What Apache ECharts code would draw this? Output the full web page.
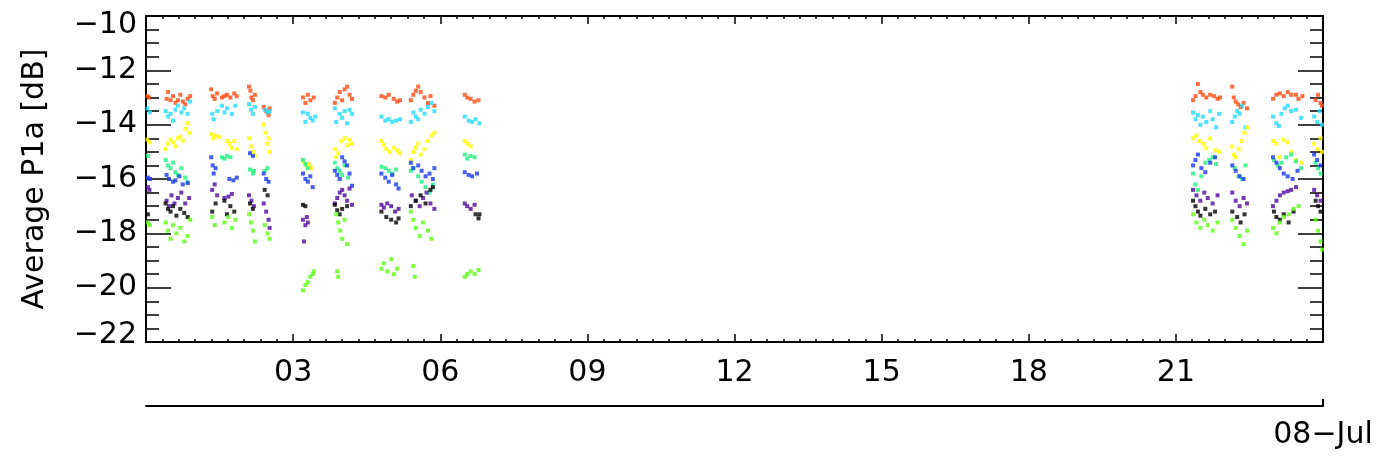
<!DOCTYPE html>
<html>
<head>
<meta charset="utf-8">
<script src="https://cdn.jsdelivr.net/npm/echarts@6/dist/echarts.min.js"></script>
<style>html,body{margin:0;padding:0;background:#fff}#c{width:1382px;height:462px}</style>
</head>
<body>
<div id="c"></div>
<script>
// x = hours of 08-Jul, y = Average P1a [dB]
const xTicks = [3, 6, 9, 12, 15, 18, 21];
const dateLabel = '08\u2212Jul';
const yName = 'Average P1a [dB]';

const redPts = [[0.03,-12.95],[0.06,-13.0],
[0.42,-13.05],[0.45,-12.8],[0.5,-13.1],[0.55,-12.95],[0.6,-13.2],[0.65,-13.1],[0.7,-12.9],[0.75,-13.15],[0.8,-13.25],[0.85,-13.05],[0.9,-12.95],
[1.33,-12.7],[1.36,-12.95],[1.4,-13.05],[1.45,-12.85],[1.55,-13.0],[1.6,-12.95],[1.65,-12.9],[1.72,-13.0],[1.8,-12.85],[1.85,-12.95],
[2.1,-12.6],[2.13,-12.75],[2.15,-13.0],[2.18,-13.1],[2.22,-12.9],
[2.4,-13.35],[2.45,-13.5],[2.5,-13.65],[2.52,-13.4],
[3.2,-13.0],[3.25,-13.2],[3.3,-12.9],[3.35,-13.1],[3.42,-13.0],
[3.85,-13.2],[3.9,-13.0],[3.95,-12.8],[4.0,-13.1],[4.05,-12.7],[4.1,-12.6],[4.15,-12.9],[4.2,-13.05],
[4.8,-12.95],[4.88,-13.0],[4.95,-12.9],[5.05,-13.05],[5.12,-13.15],[5.18,-13.1],
[5.4,-13.1],[5.45,-12.9],[5.5,-12.75],[5.55,-12.6],[5.6,-12.8],[5.68,-13.0],[5.75,-13.2],[5.8,-12.95],[5.88,-13.3],
[6.5,-12.9],[6.55,-13.0],[6.62,-13.05],[6.7,-13.15],[6.78,-13.1],
[21.35,-13.1],[21.4,-12.95],[21.45,-12.5],[21.5,-12.8],[21.55,-12.9],[21.62,-13.0],[21.7,-12.9],[21.78,-12.95],[21.85,-13.05],[21.9,-13.0],
[22.15,-12.6],[22.18,-13.0],[22.22,-13.15],[22.27,-13.25],[22.32,-13.35],[22.38,-13.2],[22.45,-13.4],
[22.98,-13.05],[23.05,-12.9],[23.12,-12.85],[23.2,-12.95],[23.28,-12.8],[23.35,-12.9],[23.45,-12.9],[23.5,-13.05],[23.58,-12.95],
[23.85,-13.1],[23.9,-12.9],[23.95,-13.2],[23.98,-13.3]];

const cyanPts = [[0.03,-13.4],[0.08,-13.55],
[0.4,-13.5],[0.45,-13.7],[0.5,-13.6],[0.55,-13.85],[0.6,-13.45],[0.65,-13.3],[0.72,-13.55],[0.78,-13.4],[0.85,-13.6],[0.9,-13.15],
[1.35,-13.6],[1.38,-13.8],[1.45,-13.5],[1.55,-13.3],[1.6,-13.55],[1.65,-13.4],[1.75,-13.6],[1.82,-13.3],
[2.1,-13.25],[2.14,-13.45],[2.18,-13.6],[2.22,-13.35],
[2.42,-13.45],[2.47,-13.55],[2.52,-13.5],
[3.2,-13.55],[3.25,-13.9],[3.3,-13.6],[3.35,-13.75],[3.4,-13.85],[3.45,-13.7],
[3.85,-13.4],[3.88,-13.9],[3.95,-13.6],[4.0,-13.75],[4.05,-13.5],[4.1,-13.95],[4.15,-13.45],[4.2,-13.6],
[4.8,-13.7],[4.88,-13.85],[4.95,-13.8],[5.02,-13.9],[5.1,-13.85],[5.18,-13.8],
[5.4,-13.9],[5.45,-13.55],[5.5,-13.7],[5.55,-13.8],[5.6,-13.45],[5.68,-13.6],[5.75,-13.35],[5.82,-13.2],[5.88,-13.5],
[6.5,-13.7],[6.58,-13.85],[6.65,-13.9],[6.72,-13.8],[6.8,-13.95],
[21.35,-13.55],[21.4,-13.8],[21.45,-13.65],[21.5,-14.0],[21.55,-13.7],[21.62,-13.9],[21.7,-13.5],[21.75,-13.8],[21.82,-14.1],[21.88,-13.6],
[22.15,-13.9],[22.2,-13.7],[22.25,-13.5],[22.3,-13.6],[22.35,-13.3],[22.42,-14.1],
[22.98,-13.7],[23.05,-13.95],[23.1,-14.05],[23.15,-13.6],[23.22,-13.4],[23.28,-13.3],[23.35,-13.5],[23.45,-13.45],[23.55,-13.75],
[23.82,-13.7],[23.88,-13.9],[23.93,-13.5],[23.98,-14.0]];

const yellowPts = [[0.03,-14.55],[0.07,-14.65],
[0.4,-14.9],[0.45,-14.7],[0.5,-14.55],[0.55,-14.65],[0.6,-14.8],[0.65,-14.5],[0.7,-14.45],[0.75,-14.6],[0.8,-14.15],[0.85,-13.95],[0.88,-14.3],
[1.33,-14.35],[1.38,-14.5],[1.42,-14.4],[1.5,-14.45],[1.65,-14.6],[1.7,-14.7],[1.75,-14.85],[1.8,-14.6],[1.85,-14.9],
[2.1,-14.5],[2.14,-14.8],[2.18,-15.0],[2.22,-15.15],
[2.4,-14.0],[2.44,-14.3],[2.48,-14.7],[2.52,-15.0],[2.5,-14.5],
[3.22,-15.35],[3.27,-15.5],[3.32,-15.45],[3.38,-15.6],
[3.85,-14.9],[3.88,-15.2],[3.92,-15.05],[3.98,-14.6],[4.05,-14.5],[4.1,-14.75],[4.15,-14.55],[4.2,-14.7],
[4.8,-14.6],[4.85,-14.75],[4.9,-14.9],[4.97,-15.0],[5.05,-14.85],[5.12,-14.95],[5.18,-15.05],
[5.4,-15.3],[5.45,-15.0],[5.5,-14.85],[5.55,-14.7],[5.6,-15.1],[5.68,-14.9],[5.75,-14.6],[5.82,-14.4],[5.88,-14.3],
[6.5,-14.6],[6.55,-14.7],[6.62,-14.8],
[21.35,-14.5],[21.42,-14.4],[21.48,-14.6],[21.55,-14.7],[21.62,-14.85],[21.7,-14.5],[21.8,-14.95],[21.88,-15.0],
[22.15,-14.8],[22.18,-15.1],[22.22,-15.2],[22.28,-14.9],[22.35,-14.6],[22.4,-14.3],[22.45,-14.1],
[22.98,-14.6],[23.05,-14.7],[23.12,-15.2],[23.2,-14.55],[23.28,-14.65],[23.35,-15.0],[23.45,-15.3],[23.55,-15.4],
[23.82,-14.7],[23.88,-14.9],[23.95,-14.5],[23.98,-15.0]];

const greenPts = [[0.04,-15.15],
[0.4,-15.3],[0.45,-15.5],[0.5,-15.6],[0.55,-15.4],[0.6,-15.75],[0.65,-15.85],[0.72,-15.6],[0.8,-15.95],[0.85,-16.1],
[1.55,-15.2],[1.6,-15.25],[1.65,-15.15],[1.72,-15.2],
[2.12,-15.65],[2.18,-15.8],[2.2,-15.7],
[2.42,-15.7],[2.48,-15.6],
[3.2,-15.3],[3.25,-15.45],[3.3,-15.6],
[3.85,-15.4],[3.9,-15.6],[3.95,-15.7],[4.0,-15.85],[4.05,-15.5],[4.12,-15.95],
[4.8,-15.55],[4.88,-15.6],[4.95,-15.7],[5.02,-15.8],[5.1,-15.65],
[5.4,-15.7],[5.45,-15.6],[5.55,-15.9],[5.62,-16.1],[5.7,-16.3],[5.78,-16.5],[5.85,-16.2],
[6.5,-15.1],[6.55,-15.25],[6.62,-15.15],[6.7,-15.2],
[21.35,-15.8],[21.4,-16.2],[21.45,-16.4],[21.52,-15.9],[21.6,-15.4],[21.68,-15.3],[21.75,-15.2],[21.82,-15.45],
[22.2,-15.6],[22.28,-15.9],[22.35,-16.0],[22.42,-15.5],
[23.0,-15.3],[23.08,-15.5],[23.15,-15.4],[23.25,-15.2],[23.35,-15.1],[23.45,-15.35],[23.55,-15.6],
[23.85,-15.4],[23.9,-15.6],[23.95,-15.8]];

const bluePts = [[0.04,-15.95],[0.08,-16.0],
[0.42,-15.85],[0.47,-16.0],[0.55,-16.1],[0.6,-16.05],[0.68,-15.9],[0.75,-16.2],[0.85,-16.15],
[1.33,-15.2],[1.36,-15.5],[1.38,-15.8],[1.42,-15.6],[1.7,-16.0],[1.78,-16.05],[1.85,-15.95],
[2.12,-15.05],[2.18,-15.15],
[2.4,-15.8],[2.45,-16.0],[2.5,-16.1],
[3.2,-15.8],[3.25,-16.0],[3.3,-16.1],[3.35,-15.9],[3.4,-16.3],
[3.85,-15.7],[3.9,-15.85],[3.95,-16.0],[4.0,-15.2],[4.05,-15.35],[4.1,-15.5],[4.15,-15.8],[4.2,-16.25],
[4.8,-15.8],[4.88,-15.95],[4.95,-16.1],[5.02,-15.85],[5.1,-16.2],[5.15,-16.35],
[5.4,-15.4],[5.45,-15.6],[5.55,-15.5],[5.62,-15.7],[5.7,-15.9],[5.78,-15.8],[5.85,-16.0],[5.88,-15.6],
[6.5,-15.75],[6.58,-15.85],[6.65,-15.9],[6.75,-15.8],
[21.35,-15.5],[21.4,-15.3],[21.45,-15.1],[21.52,-15.6],[21.6,-15.75],[21.7,-15.4],[21.8,-15.2],
[22.15,-15.5],[22.22,-15.7],[22.3,-15.9],[22.38,-16.0],
[22.98,-15.2],[23.05,-15.4],[23.12,-15.6],[23.2,-15.8],[23.28,-15.9],[23.38,-16.0],[23.48,-15.7],
[23.82,-15.1],[23.88,-15.3],[23.95,-15.5]];

const purplePts = [[0.04,-16.3],[0.07,-16.4],
[0.42,-16.8],[0.47,-17.0],[0.52,-16.6],[0.58,-16.9],[0.65,-16.7],[0.72,-16.5],[0.8,-16.9],[0.88,-16.7],
[1.35,-16.4],[1.4,-16.2],[1.45,-16.6],[1.6,-16.7],[1.68,-16.65],[1.75,-16.55],
[2.1,-16.6],[2.15,-16.8],[2.2,-17.0],
[2.4,-16.9],[2.45,-17.2],[2.5,-17.5],[2.52,-17.8],
[3.2,-17.5],[3.25,-17.7],[3.3,-17.6],[3.22,-18.3],[3.28,-17.4],
[3.85,-16.9],[3.9,-16.7],[3.95,-16.5],[4.0,-16.4],[4.05,-16.6],[4.1,-16.8],[4.15,-16.35],[4.2,-16.95],
[4.8,-16.95],[4.85,-17.05],[4.92,-16.9],[5.0,-17.0],[5.08,-17.2],[5.15,-17.1],
[5.42,-16.6],[5.5,-16.8],[5.58,-17.0],[5.65,-16.7],[5.72,-16.5],[5.8,-16.9],[5.88,-17.1],
[6.5,-16.9],[6.55,-17.0],[6.62,-17.1],[6.7,-16.95],
[21.35,-16.4],[21.42,-16.6],[21.5,-16.8],[21.58,-16.5],[21.65,-16.7],[21.75,-16.9],[21.85,-16.6],
[22.15,-16.5],[22.22,-16.8],[22.3,-17.0],[22.38,-16.7],[22.45,-16.9],
[22.98,-17.0],[23.05,-16.8],[23.12,-16.6],[23.2,-16.5],[23.28,-16.45],[23.35,-16.4],[23.45,-16.3],
[23.82,-16.4],[23.88,-16.6],[23.95,-16.8]];

const blackPts = [[0.04,-17.3],
[0.4,-16.9],[0.45,-17.1],[0.5,-17.2],[0.55,-17.0],[0.62,-17.35],[0.7,-17.1],[0.78,-17.25],[0.85,-17.4],
[1.35,-17.2],[1.42,-16.9],[1.6,-16.8],[1.65,-17.3],[1.72,-17.0],[1.8,-17.2],
[2.12,-16.9],[2.18,-17.1],
[2.42,-16.4],[2.48,-16.6],
[3.2,-16.95],[3.25,-17.0],
[3.85,-16.95],[3.9,-17.15],[3.95,-17.3],[4.0,-17.1],[4.1,-17.0],
[4.8,-17.2],[4.9,-17.4],[5.0,-17.5],[5.1,-17.6],[5.15,-17.45],
[5.4,-17.0],[5.5,-16.8],[5.6,-16.6],[5.7,-16.9],[5.8,-16.4],[5.85,-16.3],
[6.72,-17.3],[6.78,-17.45],[6.8,-17.3],
[21.35,-16.8],[21.4,-17.0],[21.45,-17.2],[21.5,-17.35],[21.6,-17.1],[21.7,-17.3],[21.8,-17.2],
[22.15,-17.2],[22.25,-17.4],[22.32,-17.6],[22.4,-17.3],
[23.0,-17.2],[23.05,-17.4],[23.12,-17.5],[23.2,-17.3],[23.3,-17.6],[23.4,-17.2],
[23.85,-16.8],[23.9,-17.0],[23.95,-17.2]];

const limePts = [[0.04,-17.6],[0.08,-17.7],
[0.4,-17.6],[0.45,-17.9],[0.5,-18.2],[0.55,-17.7],[0.62,-18.0],[0.7,-17.8],[0.78,-18.3],[0.85,-18.1],[0.9,-17.5],
[1.35,-17.4],[1.4,-17.7],[1.6,-17.6],[1.68,-17.4],[1.75,-17.8],[1.82,-17.5],
[2.1,-17.3],[2.14,-17.6],[2.18,-17.9],[2.22,-18.3],
[2.42,-17.7],[2.48,-18.0],[2.52,-18.2],
[3.2,-20.1],[3.25,-19.9],[3.3,-19.8],[3.35,-19.6],[3.4,-19.5],[3.42,-19.4],
[3.88,-17.3],[3.92,-17.6],[3.96,-17.9],[4.0,-18.2],[4.05,-17.5],[4.1,-18.4],[3.9,-19.4],[3.92,-19.6],
[4.8,-19.3],[4.85,-19.1],[4.92,-19.4],[5.0,-18.95],[5.05,-19.5],[5.12,-19.3],
[5.4,-17.2],[5.45,-17.5],[5.5,-17.8],[5.58,-18.1],[5.65,-17.6],[5.75,-17.9],[5.82,-18.2],[5.45,-19.2],[5.48,-19.6],
[6.5,-19.6],[6.55,-19.5],[6.62,-19.4],[6.7,-19.5],[6.78,-19.35],
[21.35,-17.3],[21.42,-17.6],[21.5,-17.8],[21.58,-17.5],[21.65,-17.7],[21.75,-17.9],[21.85,-17.6],
[22.15,-17.5],[22.22,-17.8],[22.3,-18.1],[22.38,-18.4],[22.45,-17.9],
[22.98,-17.8],[23.05,-18.0],[23.12,-17.6],[23.2,-17.4],[23.3,-17.3],[23.4,-17.1],[23.5,-17.0],
[23.85,-17.5],[23.9,-17.9],[23.95,-18.3],[23.98,-18.6]];

const seriesDefs = [
  ['red', redPts, '#ff4a10'],
  ['cyan', cyanPts, '#20dcff'],
  ['yellow', yellowPts, '#ffff00'],
  ['green', greenPts, '#20f080'],
  ['blue', bluePts, '#1838f0'],
  ['purple', purplePts, '#500aa0'],
  ['black', blackPts, '#000000'],
  ['lime', limePts, '#5aff10']
];

const FONT = 'DejaVu Sans';
const txt = {fontFamily: FONT, fontSize: 30, color: '#000'};
const line = {show: true, onZero: false, lineStyle: {color: '#000', width: 2}};

const chart = echarts.init(document.getElementById('c'), null, {renderer: 'canvas'});
chart.setOption({
  animation: false,
  backgroundColor: '#fff',
  grid: {left: 146, right: 59, top: 16, bottom: 120, containLabel: false},
  xAxis: [
    {type: 'value', position: 'bottom', min: 0, max: 24, interval: 3,
     axisLine: line,
     axisTick: {show: true, inside: true, length: 8, lineStyle: {color: '#000', width: 1.5}},
     minorTick: {show: true, splitNumber: 9, length: 3, lineStyle: {color: '#000', width: 1.5}},
     splitLine: {show: false}, minorSplitLine: {show: false},
     axisLabel: Object.assign({margin: 16, customValues: xTicks,
       formatter: v => (v < 10 ? '0' : '') + v}, txt)},
    {type: 'value', position: 'top', min: 0, max: 24, interval: 3,
     axisLine: line,
     axisTick: {show: true, inside: true, length: 8, lineStyle: {color: '#000', width: 1.5}},
     minorTick: {show: true, splitNumber: 9, length: 3, lineStyle: {color: '#000', width: 1.5}},
     splitLine: {show: false}, axisLabel: {show: false}},
    {type: 'value', position: 'bottom', offset: 64, min: 0, max: 24, interval: 3,
     axisLine: line,
     axisTick: {show: true, inside: true, length: 7, customValues: [24], lineStyle: {color: '#000', width: 2}},
     minorTick: {show: false}, splitLine: {show: false},
     axisLabel: Object.assign({margin: 14, customValues: [24], formatter: () => dateLabel}, txt)}
  ],
  yAxis: [
    {type: 'value', position: 'left', min: -22, max: -10, interval: 2,
     name: yName, nameLocation: 'middle', nameGap: 96, nameRotate: 90,
     nameTextStyle: {fontFamily: FONT, fontSize: 30, color: '#000'},
     axisLine: line,
     axisTick: {show: true, inside: true, length: 25, lineStyle: {color: '#000', width: 1.5}},
     minorTick: {show: true, splitNumber: 4, length: 13, lineStyle: {color: '#000', width: 1.5}},
     splitLine: {show: false},
     axisLabel: Object.assign({margin: 9,
       formatter: v => {
         const s = '\u2212' + Math.abs(v);
         if (v === -10) return '{t|' + s + '}';
         if (v === -22) return '{b|' + s + '}';
         return s;
       },
       rich: {t: {fontFamily: FONT, fontSize: 30, padding: [18, 0, 0, 0]},
              b: {fontFamily: FONT, fontSize: 30, padding: [0, 0, 14, 0]}}}, txt)},
    {type: 'value', position: 'right', min: -22, max: -10, interval: 2,
     axisLine: line,
     axisTick: {show: true, inside: true, length: 25, lineStyle: {color: '#000', width: 1.5}},
     minorTick: {show: true, splitNumber: 4, length: 13, lineStyle: {color: '#000', width: 1.5}},
     splitLine: {show: false}, axisLabel: {show: false}}
  ],
  series: seriesDefs.map(([name, pts, color]) => ({
    name: name, type: 'scatter', xAxisIndex: 0, yAxisIndex: 0,
    data: pts, symbol: 'rect', symbolSize: 4,
    itemStyle: {color: color}, silent: true, clip: false
  }))
});
</script>
</body>
</html>
